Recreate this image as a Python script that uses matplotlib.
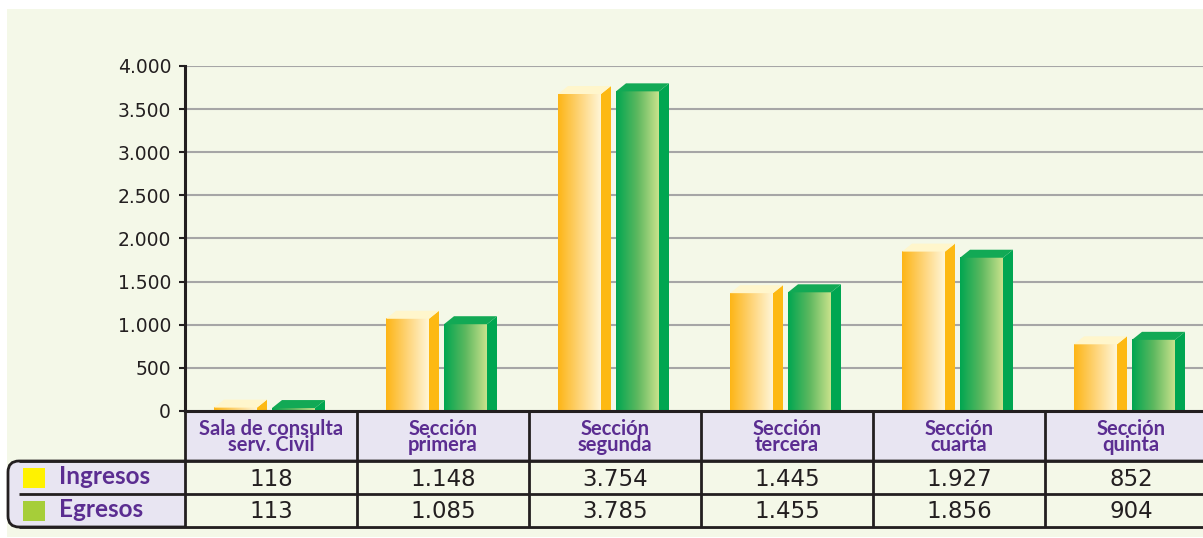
import numpy as np
import matplotlib
matplotlib.use('Agg')
import matplotlib.pyplot as plt
from matplotlib.patches import Polygon, Rectangle, FancyBboxPatch
from matplotlib.colors import LinearSegmentedColormap
from matplotlib.ticker import FuncFormatter
#
#-------------------------------------------------------------------
# Data
#-------------------------------------------------------------------
categorias = ['Sala de consulta\nserv. Civil', 'Sección\nprimera', 'Sección\nsegunda',
              'Sección\ntercera', 'Sección\ncuarta', 'Sección\nquinta']
ingresos = [118, 1148, 3754, 1445, 1927, 852]
egresos = [113, 1085, 3785, 1455, 1856, 904]
series = ['Ingresos', 'Egresos']
yticks = [0, 500, 1000, 1500, 2000, 2500, 3000, 3500, 4000]
#
def miles(v):
    return '{:,}'.format(int(v)).replace(',', '.')
#
#-------------------------------------------------------------------
# Figure, pixel overlay for background and table
#-------------------------------------------------------------------
W, H = 1203, 538
fig = plt.figure(figsize=(W / 100, H / 100), dpi=100, facecolor='white')
#
bg = '#f4f8e8'
lav = '#e8e5f2'
ink = '#231f20'
purple = '#5b2d91'
#
ax_t = fig.add_axes([0, 0, 1, 1], zorder=0)
ax_t.set_xlim(0, W)
ax_t.set_ylim(H, 0)
ax_t.axis('off')
ax_t.add_patch(Rectangle((7, 9), W - 7, 528, color=bg, lw=0))
#
#-------------------------------------------------------------------
# Main axes (bars)
#-------------------------------------------------------------------
x_left, x_right, y_top, y_base = 185, 1217, 66, 411
ax = fig.add_axes([x_left / W, (H - y_base) / H, (x_right - x_left) / W, (y_base - y_top) / H], zorder=1)
ax.patch.set_alpha(0)
ax.set_xlim(0, len(categorias))
ax.set_ylim(0, 4000)
ax.set_yticks(yticks)
ax.yaxis.set_major_formatter(FuncFormatter(lambda v, p: miles(v)))
ax.yaxis.grid(True, color='#a6a6a6', lw=1.5)
ax.set_axisbelow(True)
ax.set_xticks([])
for s in ['top', 'right']:
    ax.spines[s].set_visible(False)
for s in ['left', 'bottom']:
    ax.spines[s].set_color(ink)
    ax.spines[s].set_linewidth(2.2)
    ax.spines[s].set_zorder(5)
ax.tick_params(axis='y', direction='out', length=4.5, width=1.5, color=ink,
               labelsize=13.5, labelcolor=ink, pad=5.5)
#
cat_px = (x_right - x_left) / len(categorias)
px_y = (y_base - y_top) / 4000.0
bw = 43 / cat_px
dx = 10 / cat_px
dy = 8 / px_y
#
cm_ing = LinearSegmentedColormap.from_list('ing', ['#fdb515', '#fed478', '#fff6d8'])
cm_egr = LinearSegmentedColormap.from_list('egr', ['#00a651', '#5db85f', '#c9e28c'])
grad = np.linspace(0, 1, 256).reshape(1, -1)
#
def bar3d(x0, v, cmap, side, top):
    ft = v - 0.85 * dy
    back = ft + dy
    ax.imshow(grad, cmap=cmap, extent=(x0, x0 + bw, 0, ft), aspect='auto',
              zorder=3, interpolation='bilinear')
    ax.add_patch(Polygon([(x0 + bw, 0), (x0 + bw + dx, 0), (x0 + bw + dx, back), (x0 + bw, ft)],
                         closed=True, fc=side, ec='none', zorder=3))
    ax.add_patch(Polygon([(x0, ft), (x0 + bw, ft), (x0 + bw + dx, back), (x0 + dx, back)],
                         closed=True, fc=top, ec='none', zorder=3))
#
for i in range(len(categorias)):
    cx = i + 0.5
    bar3d(cx - 57 / cat_px, ingresos[i], cm_ing, '#fdb913', '#fff6cc')
    bar3d(cx + 1 / cat_px, egresos[i], cm_egr, '#00a651', '#12a955')
ax.set_xlim(0, len(categorias))
ax.set_ylim(0, 4000)
#
#-------------------------------------------------------------------
# Data table
#-------------------------------------------------------------------
cols = [x_left + cat_px * i for i in range(len(categorias) + 1)]
r0, r1, r2, r3 = 411, 461, 494, 527
ax_t.add_patch(Rectangle((x_left, r0), W - x_left + 30, r1 - r0, fc=lav, ec='none'))
ax_t.add_patch(FancyBboxPatch((8, r1), W + 30, r3 - r1, boxstyle='round,pad=0,rounding_size=11',
                              fc=lav, ec=ink, lw=2))
ax_t.add_patch(Rectangle((x_left, r1), W - x_left + 30, r3 - r1, fc=bg, ec='none'))
for yy in [r1, r2, r3]:
    ax_t.plot([19, W + 30], [yy, yy], color=ink, lw=2, solid_capstyle='butt')
for xx in cols:
    ax_t.plot([xx, xx], [r0, r3], color=ink, lw=2, solid_capstyle='butt')
#
for i, lab in enumerate(categorias):
    ax_t.text(cols[i] + cat_px / 2, 437, lab, ha='center', va='center', fontsize=14.5,
              fontweight='bold', color=purple, linespacing=0.8,
              family=['Lato', 'DejaVu Sans'])
    ax_t.text(cols[i] + cat_px / 2, 479, miles(ingresos[i]), ha='center', va='center',
              fontsize=16.5, color=ink)
    ax_t.text(cols[i] + cat_px / 2, 511, miles(egresos[i]), ha='center', va='center',
              fontsize=16.5, color=ink)
#
leg_colors = ['#fff200', '#a6ce39']
for k, (name, c) in enumerate(zip(series, leg_colors)):
    yc = (r1 + r2) / 2 if k == 0 else (r2 + r3) / 2
    ax_t.add_patch(Rectangle((23, yc - 10), 22, 20, fc=c, ec='none'))
    ax_t.text(59, yc - 1, name, ha='left', va='center', fontsize=17.5, fontweight='bold',
              color=purple, family=['Lato', 'DejaVu Sans'])
#
plt.savefig('out.png', dpi=100, facecolor='white')
plt.close('all')
